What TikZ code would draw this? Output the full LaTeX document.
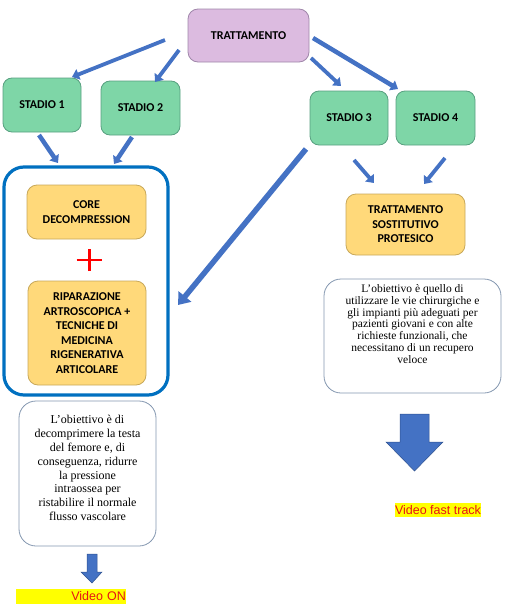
\documentclass[tikz,border=0pt]{standalone}
\usepackage{fontspec}
\setmainfont{Liberation Serif}
\newfontfamily\boxfont{Carlito}
\newfontfamily\vidfont{Liberation Sans}
\usetikzlibrary{arrows.meta}
\definecolor{purplefill}{RGB}{220,187,224}
\definecolor{purpleline}{RGB}{160,135,170}
\definecolor{greenfill}{RGB}{126,214,167}
\definecolor{greenline}{RGB}{88,160,128}
\definecolor{orangefill}{RGB}{255,217,122}
\definecolor{orangeline}{RGB}{200,168,90}
\definecolor{arrowblue}{RGB}{68,114,196}
\definecolor{arrowedge}{RGB}{47,82,143}
\definecolor{frameblue}{RGB}{0,112,192}
\definecolor{textline}{RGB}{132,151,176}
\definecolor{hiyellow}{RGB}{255,255,0}
\definecolor{vidred}{RGB}{230,20,20}
\begin{document}
\begin{tikzpicture}[x=1pt,y=-1pt,
  box/.style={draw, line width=0.8pt, inner sep=0pt, align=center,
    font=\boxfont\bfseries\fontsize{12}{14.5}\selectfont, text=black},
  tbox/.style={box, fill=purplefill, draw=purpleline, rounded corners=10pt},
  gbox/.style={box, fill=greenfill, draw=greenline, rounded corners=9pt},
  obox/.style={box, fill=orangefill, draw=orangeline, rounded corners=10pt},
  txtbox/.style={draw=textline, line width=0.8pt, fill=white, rounded corners=17pt, inner sep=0pt},
  txt/.style={align=center, inner sep=0pt, font=\fontsize{12}{13.8}\selectfont},
  arr/.style={draw=arrowblue, line width=3.8pt, -{Triangle[width=11pt,length=7pt]}},
  bigarr/.style={draw=arrowblue, line width=5.5pt, -{Triangle[width=16pt,length=11pt]}},
  blockarr/.style={fill=arrowblue, draw=arrowedge, line width=0.5pt},
  vid/.style={fill=hiyellow, inner sep=0pt, text=vidred, font=\vidfont\fontsize{12.5}{14}\selectfont}
]
\useasboundingbox (0,0) rectangle (505,613);

% boxes
\node[tbox, minimum width=121, minimum height=53] (tratt) at (248.5,35.5) {TRATTAMENTO};
\node[gbox, minimum width=78, minimum height=54] (s1) at (42,105) {STADIO 1};
\node[gbox, minimum width=79, minimum height=54] (s2) at (140.5,108) {STADIO 2};
\node[gbox, minimum width=78, minimum height=54] (s3) at (349,118) {STADIO 3};
\node[gbox, minimum width=79, minimum height=54] (s4) at (435.5,118) {STADIO 4};

\node[draw=frameblue, line width=3.2pt, rounded corners=20pt, minimum width=164, minimum height=228, inner sep=0pt] (frame) at (86,281) {};
\node[obox, minimum width=119, minimum height=54] (core) at (86.5,212) {CORE\\DECOMPRESSION};
\node[obox, minimum width=118, minimum height=104] (ripa) at (87,333) {RIPARAZIONE\\ARTROSCOPICA +\\TECNICHE DI\\MEDICINA\\RIGENERATIVA\\ARTICOLARE};
\node[obox, minimum width=119, minimum height=61] (prot) at (405.5,224.5) {TRATTAMENTO\\SOSTITUTIVO\\PROTESICO};

% plus
\coordinate (plus) at (89.5,260);
\draw[red, line width=2.4pt] ([xshift=-12.8pt]plus) -- ([xshift=12.8pt]plus);
\draw[red, line width=2.4pt] ([yshift=-11pt]plus) -- ([yshift=11pt]plus);

% text boxes
\node[txtbox, minimum width=177, minimum height=114] (rbox) at (412.5,336) {};
\node[txt, font=\fontsize{11.5}{11.7}\selectfont] (rtext) at (412.5,324) {L’obiettivo è quello di\\utilizzare le vie chirurgiche e\\gli impianti più adeguati per\\pazienti giovani e con alte\\richieste funzionali, che\\necessitano di un recupero\\veloce};

\node[txtbox, minimum width=137, minimum height=145] (lbox) at (87.5,473.5) {};
\node[txt] (ltext) at (87.5,468) {L’obiettivo è di\\decomprimere la testa\\del femore e, di\\conseguenza, ridurre\\la pressione\\intraossea per\\ristabilire il normale\\flusso vascolare};

% video labels
\node[vid, text width=110pt, align=right, minimum height=15] (von) at (71,596.5) {Video ON};
\node[vid, minimum height=14] (vft) at (438,510) {Video fast track};

% arrow end coordinates
\coordinate (a1s) at (165,40);  \coordinate (a1e) at (72,77);
\coordinate (a2s) at (179,50);  \coordinate (a2e) at (155,82);
\coordinate (a3s) at (311,58);  \coordinate (a3e) at (341,86);
\coordinate (a4s) at (313,38);  \coordinate (a4e) at (398,89);
\coordinate (b1s) at (39,135);  \coordinate (b1e) at (58,163);
\coordinate (b2s) at (132,137); \coordinate (b2e) at (114,164);
\coordinate (b3s) at (306,149); \coordinate (b3e) at (178,305);
\coordinate (c3s) at (354,160); \coordinate (c3e) at (374,183);
\coordinate (c4s) at (445,158); \coordinate (c4e) at (424,184);

\draw[arr] (a1s) -- (a1e);
\draw[arr] (a2s) -- (a2e);
\draw[arr] (a3s) -- (a3e);
\draw[arr, line width=4.5pt] (a4s) -- (a4e);
\draw[arr, line width=4.5pt] (b1s) -- (b1e);
\draw[arr, line width=4.5pt] (b2s) -- (b2e);
\draw[bigarr] (b3s) -- (b3e);
\draw[arr] (c3s) -- (c3e);
\draw[arr] (c4s) -- (c4e);

% block arrows
\draw[blockarr] (87,554) -- (97,554) -- (97,572) -- (102,572) -- (92,583) -- (81,572) -- (87,572) -- cycle;
\draw[blockarr] (400,414) -- (429,414) -- (429,442) -- (443,442) -- (414.5,471) -- (386,442) -- (400,442) -- cycle;
\end{tikzpicture}
\end{document}
